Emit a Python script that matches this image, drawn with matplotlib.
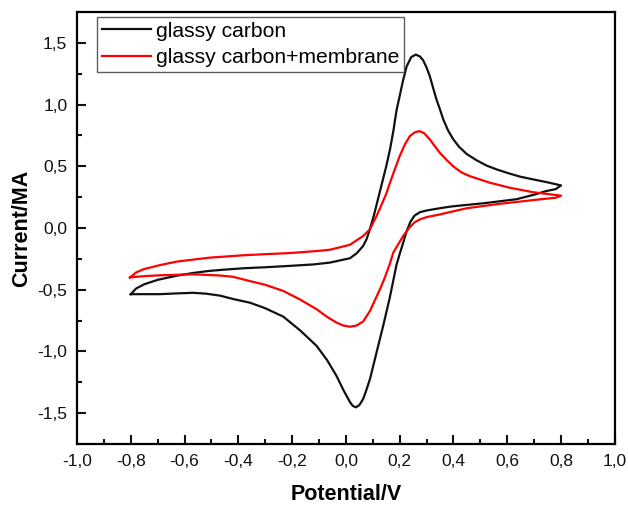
import matplotlib
matplotlib.use("Agg")
import matplotlib.pyplot as plt
from matplotlib.ticker import MultipleLocator, FuncFormatter

plt.rcParams['font.family'] = ['Liberation Sans', 'DejaVu Sans']

# glassy carbon (closed CV loop: anodic sweep then cathodic return)
gc_potential = [-0.80, -0.78, -0.75, -0.70, -0.63, -0.57, -0.51, -0.45, -0.38, -0.30,
                -0.21, -0.12, -0.059, 0.015, 0.04, 0.064, 0.077, 0.089, 0.105, 0.12,
                0.135, 0.15, 0.164, 0.176, 0.188, 0.20, 0.213, 0.226, 0.243, 0.26,
                0.275, 0.287, 0.30, 0.312, 0.325, 0.337, 0.35, 0.362, 0.38, 0.399,
                0.42, 0.449, 0.485, 0.523, 0.56, 0.61, 0.65, 0.696, 0.75, 0.80,
                0.78, 0.746, 0.70, 0.634, 0.51, 0.43, 0.387, 0.349, 0.30, 0.275,
                0.255, 0.24, 0.225, 0.213, 0.20, 0.188, 0.164, 0.14, 0.114, 0.09,
                0.075, 0.064, 0.05, 0.037, 0.025, 0.015, -0.01, -0.035, -0.07, -0.109,
                -0.17, -0.233, -0.30, -0.357, -0.42, -0.468, -0.52, -0.568, -0.63, -0.691,
                -0.75, -0.80]
gc_current = [-0.536, -0.49, -0.456, -0.42, -0.387, -0.365, -0.348, -0.337, -0.326, -0.318,
              -0.307, -0.295, -0.28, -0.245, -0.205, -0.146, -0.09, -0.011, 0.11, 0.24,
              0.37, 0.50, 0.637, 0.78, 0.95, 1.07, 1.20, 1.31, 1.385, 1.405,
              1.39, 1.36, 1.30, 1.23, 1.13, 1.04, 0.96, 0.88, 0.79, 0.72,
              0.66, 0.60, 0.55, 0.506, 0.475, 0.44, 0.415, 0.394, 0.37, 0.345,
              0.315, 0.30, 0.27, 0.233, 0.20, 0.183, 0.173, 0.16, 0.142, 0.128,
              0.10, 0.05, -0.03, -0.12, -0.21, -0.30, -0.556, -0.78, -1.008, -1.22,
              -1.32, -1.386, -1.435, -1.453, -1.44, -1.41, -1.31, -1.198, -1.07, -0.955,
              -0.83, -0.718, -0.65, -0.605, -0.575, -0.548, -0.532, -0.525, -0.53, -0.536,
              -0.536, -0.536]

# glassy carbon + membrane
gcm_potential = [-0.803, -0.78, -0.753, -0.69, -0.629, -0.506, -0.382, -0.30, -0.208, -0.10,
                 -0.059, 0.015, 0.064, 0.089, 0.114, 0.133, 0.151, 0.164, 0.176, 0.20,
                 0.22, 0.238, 0.256, 0.273, 0.29, 0.312, 0.33, 0.349, 0.375, 0.399,
                 0.43, 0.461, 0.535, 0.61, 0.696, 0.80,
                 0.78, 0.721, 0.572, 0.449, 0.349, 0.30, 0.275, 0.255, 0.235, 0.213,
                 0.195, 0.176, 0.164, 0.145, 0.13, 0.114, 0.09, 0.064, 0.04, 0.015,
                 -0.01, -0.035, -0.07, -0.109, -0.17, -0.233, -0.30, -0.357, -0.42, -0.468,
                 -0.568, -0.691, -0.75, -0.803]
gcm_current = [-0.40, -0.36, -0.334, -0.30, -0.272, -0.240, -0.221, -0.212, -0.203, -0.185,
               -0.176, -0.136, -0.065, -0.011, 0.097, 0.19, 0.283, 0.367, 0.44, 0.583,
               0.68, 0.745, 0.775, 0.785, 0.77, 0.718, 0.665, 0.61, 0.55, 0.50,
               0.45, 0.42, 0.367, 0.326, 0.29, 0.262,
               0.245, 0.232, 0.196, 0.16, 0.11, 0.088, 0.07, 0.045, 0.0, -0.065,
               -0.13, -0.20, -0.286, -0.40, -0.48, -0.556, -0.67, -0.758, -0.79, -0.80,
               -0.79, -0.766, -0.72, -0.658, -0.58, -0.51, -0.46, -0.43, -0.395, -0.385,
               -0.375, -0.383, -0.39, -0.40]

series_labels = ["glassy carbon", "glassy carbon+membrane"]
series_colors = ["#111111", "#ff0000"]

fig = plt.figure(figsize=(6.28, 5.05), dpi=100)
ax = fig.add_axes([0.1226, 0.1208, 0.8564, 0.8554])

ax.plot(gc_potential, gc_current, color=series_colors[0], lw=1.6, label=series_labels[0])
ax.plot(gcm_potential, gcm_current, color=series_colors[1], lw=1.6, label=series_labels[1])

ax.set_xlim(-1.0, 1.0)
ax.set_ylim(-1.75, 1.75)
ax.xaxis.set_major_locator(MultipleLocator(0.2))
ax.xaxis.set_minor_locator(MultipleLocator(0.1))
ax.yaxis.set_major_locator(MultipleLocator(0.5))
ax.yaxis.set_minor_locator(MultipleLocator(0.25))
fmt = FuncFormatter(lambda v, p: f"{v:.1f}".replace('.', ',').replace('-0,0', '0,0'))
ax.xaxis.set_major_formatter(fmt)
ax.yaxis.set_major_formatter(fmt)

ax.tick_params(which='both', direction='in', top=False, right=False, width=1.5,
               labelsize=12.5, pad=7, colors='#111111')
ax.tick_params(which='major', length=6.5)
ax.tick_params(which='minor', length=3.5)
for s in ax.spines.values():
    s.set_linewidth(1.6)
    s.set_color('#000000')

ax.set_xlabel("Potential/V", fontsize=15.5, fontweight='bold', labelpad=11)
ax.set_ylabel("Current/MA", fontsize=15.5, fontweight='bold', labelpad=4)

leg = ax.legend(loc='upper left', bbox_to_anchor=(0.037, 0.988), fontsize=15.2,
                frameon=True, fancybox=False, edgecolor='#333333', handlelength=2.35,
                handletextpad=0.25, borderpad=0.22, labelspacing=0.34, borderaxespad=0.0)
leg.get_frame().set_linewidth(1.0)

fig.savefig("out.png", dpi=100)
